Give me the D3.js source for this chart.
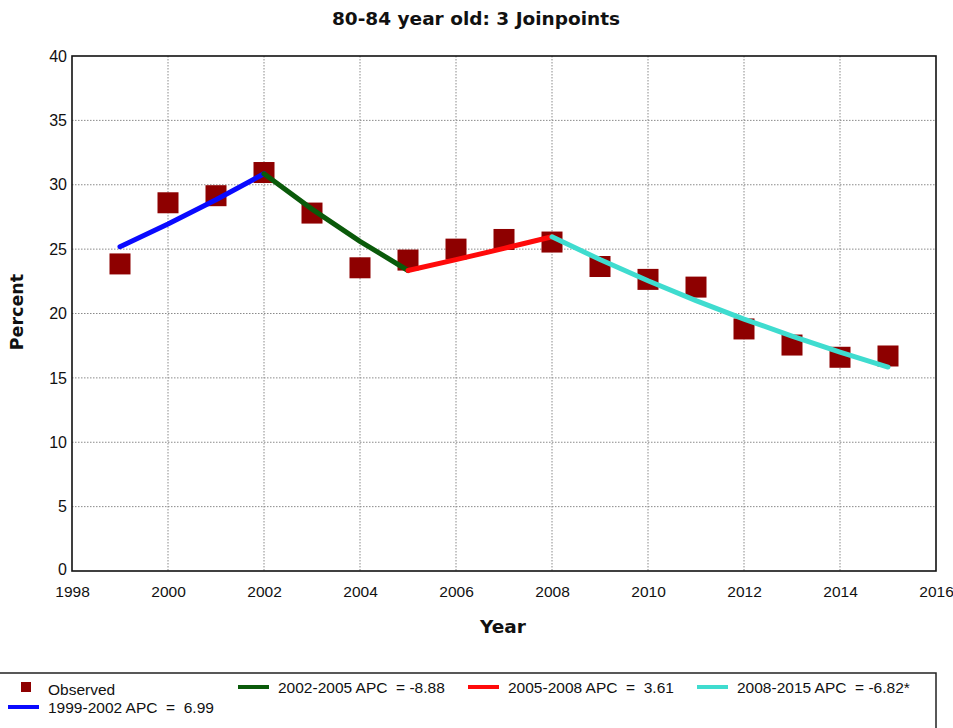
<!DOCTYPE html>
<html><head><meta charset="utf-8">
<script src="https://cdn.jsdelivr.net/npm/d3@7/dist/d3.min.js"></script>
<style>html,body{margin:0;padding:0;background:#fff;overflow:hidden}</style>
</head><body>
<script>
const years = [1999,2000,2001,2002,2003,2004,2005,2006,2007,2008,2009,2010,2011,2012,2013,2014,2015];
const observed = [23.85,28.6,29.15,30.95,27.8,23.55,24.15,25.0,25.75,25.55,23.65,22.65,22.05,18.8,17.55,16.6,16.7];
const seg1Years = [1999,2000,2001,2002];
const seg1Fit = [25.19,26.95,28.84,30.85];
const seg2Years = [2002,2003,2004,2005];
const seg2Fit = [30.85,28.11,25.61,23.34];
const seg3Years = [2005,2006,2007,2008];
const seg3Fit = [23.34,24.18,25.06,25.96];
const seg4Years = [2008,2009,2010,2011,2012,2013,2014,2015];
const seg4Fit = [25.96,24.19,22.54,21.00,19.57,18.24,17.00,15.84];
const segLabels = ["1999-2002 APC  =  6.99","2002-2005 APC  = -8.88","2005-2008 APC  =  3.61","2008-2015 APC  = -6.82*"];
const xTicks = [1998,2000,2002,2004,2006,2008,2010,2012,2014,2016];
const yTicks = [0,5,10,15,20,25,30,35,40];
const titleText = "80-84 year old: 3 Joinpoints";

const W=953,H=728;
const L=72,R=936,T=56,B=571;
const svg=d3.select("body").append("svg").attr("width",W).attr("height",H);
const x=d3.scaleLinear().domain([1998,2016]).range([L,R]);
const y=d3.scaleLinear().domain([0,40]).range([B,T]);

// grid
svg.append("g").selectAll("line").data(xTicks.slice(1,-1)).join("line")
 .attr("x1",d=>x(d)).attr("x2",d=>x(d)).attr("y1",T).attr("y2",B)
 .attr("stroke","#8a8a8a").attr("stroke-width",1).attr("stroke-dasharray","1.5,1.5");
svg.append("g").selectAll("line").data(yTicks.slice(1,-1)).join("line")
 .attr("x1",L).attr("x2",R).attr("y1",d=>y(d)).attr("y2",d=>y(d))
 .attr("stroke","#8a8a8a").attr("stroke-width",1).attr("stroke-dasharray","1.5,1.5");

// frame
svg.append("rect").attr("x",L).attr("y",T).attr("width",R-L).attr("height",B-T)
 .attr("fill","none").attr("stroke","#111").attr("stroke-width",1.6);

// axes labels via d3 axes
const fnt="Liberation Sans, Arial, sans-serif";
const xa=svg.append("g").attr("transform",`translate(0,${B})`)
 .call(d3.axisBottom(x).tickValues(xTicks).tickFormat(d3.format("d")).tickSize(0).tickPadding(15));
xa.select(".domain").remove();
xa.selectAll("text").attr("font-family",fnt).attr("font-size",15.5).attr("fill","#111");
const ya=svg.append("g").attr("transform",`translate(${L},0)`)
 .call(d3.axisLeft(y).tickValues(yTicks).tickSize(0).tickPadding(5));
ya.select(".domain").remove();
ya.selectAll("text").attr("font-family",fnt).attr("font-size",16).attr("fill","#111");
ya.selectAll(".tick").filter(d=>d===0).select("text").attr("dy","0.2em");

// observed squares
const sq=21;
svg.append("g").selectAll("rect").data(years).join("rect")
 .attr("x",(d,i)=>x(d)-sq/2).attr("y",(d,i)=>y(observed[i])-sq/2)
 .attr("width",sq).attr("height",sq).attr("fill","#8e0000");

// fitted segments
const segs=[[seg1Years,seg1Fit,"#0a0aff"],[seg2Years,seg2Fit,"#0a5a0a"],[seg3Years,seg3Fit,"#ff0a0a"],[seg4Years,seg4Fit,"#3fdccf"]];
const line=d3.line().x(d=>x(d[0])).y(d=>y(d[1]));
segs.forEach(([ys,vs,c])=>{
  svg.append("path").datum(ys.map((d,i)=>[d,vs[i]])).attr("d",line)
   .attr("fill","none").attr("stroke",c).attr("stroke-width",5).attr("stroke-linecap","round");
});

// titles
const bold="DejaVu Sans, Verdana, sans-serif";
svg.append("text").attr("x",476).attr("y",25).attr("text-anchor","middle")
 .attr("font-family",bold).attr("font-weight","bold").attr("font-size",18.5).attr("fill","#111").text(titleText);
svg.append("text").attr("x",503).attr("y",633).attr("text-anchor","middle")
 .attr("font-family",bold).attr("font-weight","bold").attr("font-size",18.5).attr("fill","#111").text("Year");
svg.append("text").attr("transform","translate(23,312) rotate(-90)").attr("text-anchor","middle")
 .attr("font-family",bold).attr("font-weight","bold").attr("font-size",17.5).attr("fill","#111").text("Percent");

// legend
svg.append("rect").attr("x",-2).attr("y",673).attr("width",938).attr("height",100)
 .attr("fill","none").attr("stroke","#222").attr("stroke-width",1.5);
const lg=svg.append("g").attr("font-family",fnt).attr("font-size",15.5).attr("fill","#111");
lg.append("rect").attr("x",21).attr("y",682).attr("width",10).attr("height",10).attr("fill","#8e0000");
lg.append("text").attr("x",48).attr("y",695).text("Observed");
const items=[[8,707,0],[238,687,1],[468,687,2],[697,687,3]];
items.forEach(([lx,ly,k])=>{
  lg.append("line").attr("x1",lx).attr("x2",lx+31).attr("y1",ly).attr("y2",ly)
   .attr("stroke",segs[k][2]).attr("stroke-width",4);
  lg.append("text").attr("x",lx+40).attr("y",ly+6).style("white-space","pre").text(segLabels[k]);
});
</script>
</body></html>
